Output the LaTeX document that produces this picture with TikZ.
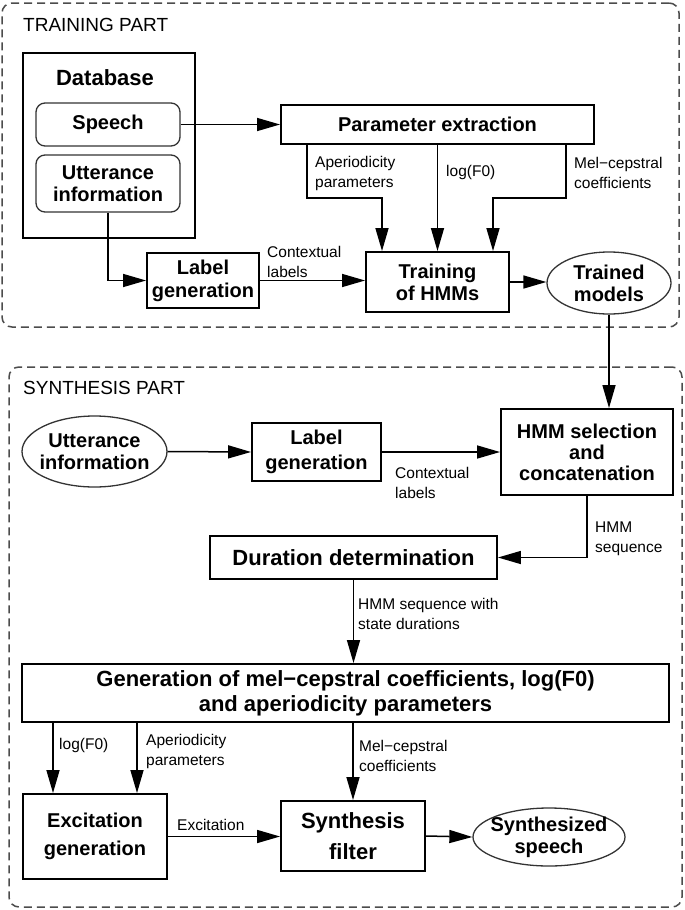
\documentclass[tikz,border=0pt]{standalone}
\usepackage{fontspec}
\setmainfont{Liberation Sans}
\usetikzlibrary{arrows.meta,positioning,shapes}
\tikzset{
part_box/.style={
	% The shape:
	rectangle,
	% The border:
	draw=black!70,
	line width=1.5pt,
	dash pattern=on 8pt off 5pt,
	% The corners:
	rounded corners=10pt
},
proc_box/.style={
	% The shape:
	rectangle,
	% The border:
	draw,
	line width=1.9pt,
	% Font
	font=\fontsize{20}{22}\selectfont\bfseries,
	align=center,
	inner sep=2pt
},
big_box/.style={proc_box, font=\fontsize{22}{25}\selectfont\bfseries},
data_box/.style={proc_box, draw=black!80, line width=1.3pt, rounded corners=9pt},
data_oval/.style={proc_box, draw=black!80, line width=1.3pt, ellipse, inner xsep=-8pt, inner ysep=-2pt},
note/.style={font=\fontsize{15.5}{20}\selectfont, align=left, anchor=west, inner sep=2pt},
part_title/.style={font=\fontsize{19}{22}\selectfont, anchor=west, inner sep=0pt},
flow/.style={-{Triangle[length=23pt,width=13pt]}, line width=1.5pt}
}
\begin{document}
\begin{tikzpicture}[x=1pt,y=-1pt]
\useasboundingbox (0,0) rectangle (685,910);
% the two parts
\node[part_box, minimum width=677pt, minimum height=324pt] (train_part) at (340.5,165) {};
\node[part_box, minimum width=673pt, minimum height=540pt] (syn_part) at (345.5,637) {};
\node[part_title] (train_title) at (23,25) {TRAINING PART};
\node[part_title] (syn_title) at (23,388) {SYNTHESIS PART};
% training
\node[proc_box, minimum width=172pt, minimum height=185pt] (db) at (109,145.5) {};
\node[big_box, draw=none] (db_name) at (105,78) {Database};
\node[data_box, minimum width=144pt, minimum height=43pt] (speech) at (108,124.5) {Speech};
\node[data_box, minimum width=144pt, minimum height=57pt] (utt_db) at (108,183.5) {Utterance\\information};
\node[proc_box, minimum width=313pt, minimum height=39pt] (par_ext) at (437.5,124.5) {Parameter extraction};
\node[proc_box, minimum width=112pt, minimum height=55pt, font=\fontsize{20}{23}\selectfont\bfseries] (lab_train) at (203,280.5) {Label\\generation};
\node[proc_box, minimum width=143pt, minimum height=60pt] (hmm_train) at (437.5,282) {Training\\of HMMs};
\node[data_oval, minimum width=124pt, minimum height=62pt] (trained) at (609,283) {Trained\\models};
\node[note] (ap_train) at (313,173) {Aperiodicity\\parameters};
\node[note] (f0_train) at (444,172) {log(F0)};
\node[note] (mc_train) at (572,173) {Mel−cepstral\\coefficients};
\node[note] (ctx_train) at (265,261.5) {Contextual\\labels};
\draw[flow] (speech.east) -- (par_ext.west);
\draw[flow] ([xshift=-130.5pt]par_ext.south) -- ++(0,53) -| ([xshift=-55.5pt]hmm_train.north);
\draw[flow] (par_ext.south) -- (hmm_train.north);
\draw[flow] ([xshift=128.5pt]par_ext.south) -- ++(0,53) -| ([xshift=55.5pt]hmm_train.north);
\draw[flow] (utt_db.south) |- (lab_train.west);
\draw[flow] (lab_train.east) -- (lab_train.east -| hmm_train.west);
\draw[flow] (hmm_train.east) -- (hmm_train.east -| trained.west);
% synthesis
\node[data_oval, minimum width=145pt, minimum height=71pt] (utt_syn) at (94.5,451.5) {Utterance\\information};
\node[proc_box, minimum width=129pt, minimum height=58pt, font=\fontsize{20}{25}\selectfont\bfseries] (lab_syn) at (316.5,452) {Label\\generation};
\node[proc_box, minimum width=172pt, minimum height=86pt, font=\fontsize{20}{21}\selectfont\bfseries] (hmm_sel) at (587,452) {HMM selection\\and\\concatenation};
\node[big_box, minimum width=287pt, minimum height=43pt] (dur) at (353.5,557.5) {Duration determination};
\node[big_box, minimum width=647pt, minimum height=58pt] (gen) at (345.5,693) {Generation of mel−cepstral coefficients, log(F0)\\and aperiodicity parameters};
\node[proc_box, minimum width=144pt, minimum height=85pt, font=\fontsize{20}{28}\selectfont\bfseries] (exc) at (95,836.5) {Excitation\\generation};
\node[big_box, minimum width=144pt, minimum height=70pt, font=\fontsize{22}{31}\selectfont\bfseries] (syn_filt) at (353,836) {Synthesis\\filter};
\node[data_oval, minimum width=152pt, minimum height=58pt] (syn_speech) at (549,837) {Synthesized\\speech};
\node[note] (ctx_syn) at (393,483) {Contextual\\labels};
\node[note] (seq) at (593,539) {HMM\\sequence};
\node[note] (seq_dur) at (356,614) {HMM sequence with\\state durations};
\node[note] (f0_syn) at (57,745) {log(F0)};
\node[note] (ap_syn) at (144,751) {Aperiodicity\\parameters};
\node[note] (mc_syn) at (357,755.5) {Mel−cepstral\\coefficients};
\node[note] (exc_lab) at (175,825) {Excitation};
\draw[flow] (trained.south) -- (trained.south |- hmm_sel.north);
\draw[flow] (utt_syn.east) -- (lab_syn.west);
\draw[flow] (lab_syn.east) -- (hmm_sel.west);
\draw[flow] (hmm_sel.south) |- (dur.east);
\draw[flow] (dur.south) -- (dur.south |- gen.north);
\draw[flow] ([xshift=-292.5pt]gen.south) -- ([xshift=-42pt]exc.north);
\draw[flow] ([xshift=-208.5pt]gen.south) -- ([xshift=42pt]exc.north);
\draw[flow] (gen.south -| syn_filt.north) -- (syn_filt.north);
\draw[flow] (exc.east) -- (exc.east -| syn_filt.west);
\draw[flow] (syn_filt.east) -- (syn_speech.west);
\end{tikzpicture}
\end{document}
